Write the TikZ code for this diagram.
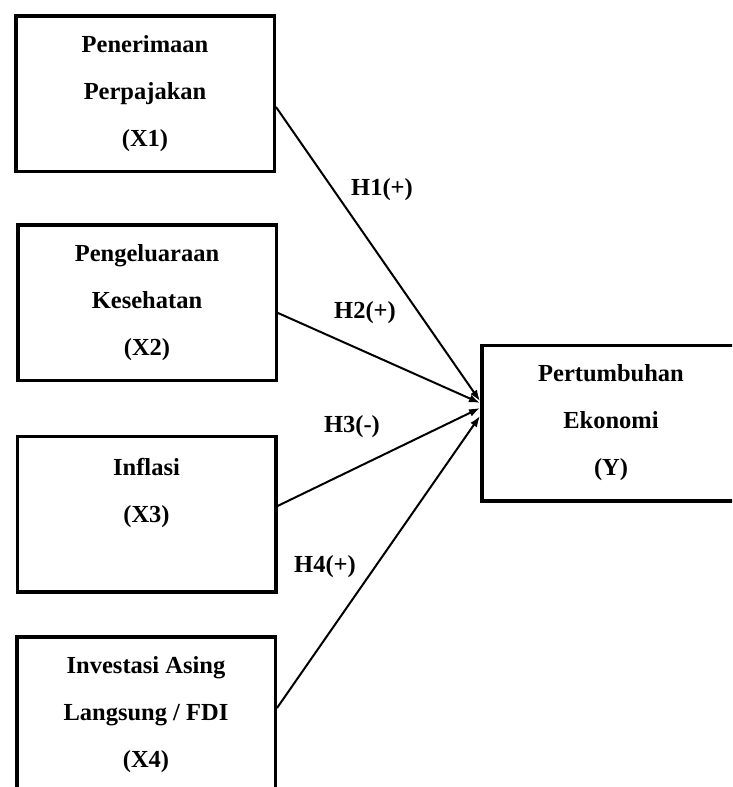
\documentclass[tikz,border=0pt]{standalone}
\usepackage{fontspec}
\setmainfont{Liberation Serif}
\usetikzlibrary{arrows.meta}

\tikzset{
  varbox/.style={rectangle, draw=black, line width=3.5pt, minimum width=258.5pt,
    minimum height=155.5pt, align=center, font=\bfseries\fontsize{24.5}{47}\selectfont},
  hyp/.style={font=\bfseries\fontsize{24.5}{30}\selectfont},
  hyparrow/.style={line width=2pt, -{Latex[length=11pt,width=8pt]}}
}

\begin{document}
\begin{tikzpicture}[x=1pt,y=-1pt]

  \useasboundingbox (0,0) rectangle (732,787);
  \clip (0,0) rectangle (732,787);

  % independent variables
  \node[varbox] (pajak) at (145, 93.5) {Penerimaan\\Perpajakan\\(X1)};
  \node[varbox] (sehat) at (147, 302.5) {Pengeluaraan\\Kesehatan\\(X2)};
  \node[varbox] (inflasi) at (146.5, 514) {Inflasi\\(X3)\\\mbox{}};
  \node[varbox] (fdi) at (146, 714.5) {Investasi Asing\\Langsung / FDI\\(X4)};

  % dependent variable
  \node[varbox] (tumbuh) at (611, 423) {Pertumbuhan\\Ekonomi\\(Y)};

  \coordinate (in1) at ([yshift=22pt]tumbuh.west);
  \coordinate (in2) at ([yshift=20pt]tumbuh.west);
  \coordinate (in3) at ([yshift=15pt]tumbuh.west);
  \coordinate (in4) at ([yshift=7pt]tumbuh.west);

  \draw[hyparrow] ([yshift=-13.5pt]pajak.east) -- (in1);
  \draw[hyparrow] ([yshift=-10.5pt]sehat.east) -- (in2);
  \draw[hyparrow] ([yshift=8pt]inflasi.east) -- (in3);
  \draw[hyparrow] ([yshift=6.5pt]fdi.east) -- (in4);

  \node[hyp] (h1) at (382, 190) {H1(+)};
  \node[hyp] (h2) at (365, 313) {H2(+)};
  \node[hyp] (h3) at (352, 427) {H3(-)};
  \node[hyp] (h4) at (325, 567) {H4(+)};
\end{tikzpicture}
\end{document}
